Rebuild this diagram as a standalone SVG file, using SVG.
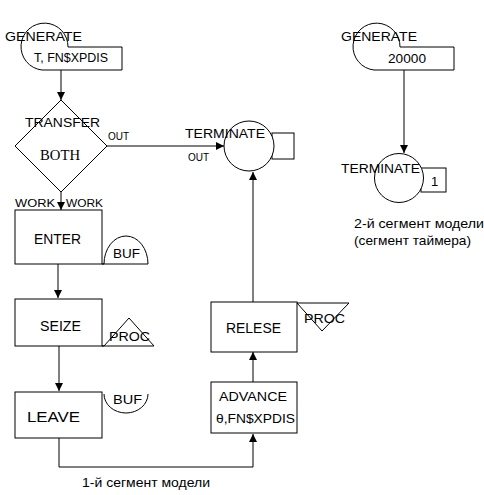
<svg xmlns="http://www.w3.org/2000/svg" width="484" height="495" viewBox="0 0 484 495">
<defs>
<style>
.s{fill:#fff;stroke:#000;stroke-width:1}
.n{fill:none;stroke:#000;stroke-width:1}
.t{font-family:"Liberation Sans",Arial,sans-serif;font-size:13px;fill:#000}
.c{text-anchor:middle}
.b{font-size:15px}
.sm{font-size:10px}
.ser{font-family:"Liberation Serif","Times New Roman",serif;font-size:15px}
</style>
<marker id="ah" viewBox="0 0 10 10" refX="10" refY="5" markerWidth="8" markerHeight="8" markerUnits="userSpaceOnUse" orient="auto">
<path d="M0,0 L10,5 L0,10 Z" fill="#000"/>
</marker>
</defs>
<rect width="484" height="495" fill="#fff"/>

<g id="connectors">
<line class="n" x1="61" y1="70" x2="61" y2="100" marker-end="url(#ah)"/>
<line class="n" x1="61" y1="192" x2="61" y2="210" marker-end="url(#ah)"/>
<line class="n" x1="107" y1="146" x2="224" y2="146" marker-end="url(#ah)"/>
<line class="n" x1="58" y1="264" x2="58" y2="298" marker-end="url(#ah)"/>
<line class="n" x1="59" y1="346" x2="59" y2="391" stroke-width="2" marker-end="url(#ah)"/>
<polyline class="n" points="59,438 59,467 253,467 253,434" marker-end="url(#ah)"/>
<line class="n" x1="253" y1="382" x2="253" y2="352" marker-end="url(#ah)"/>
<line class="n" x1="253" y1="302" x2="253" y2="172" marker-end="url(#ah)"/>
<line class="n" x1="404" y1="70" x2="404" y2="153" marker-end="url(#ah)"/>
</g>

<g id="generate1">
<path class="s" d="M42,70 A23.5,23.5 0 1 1 68,47 L122,47 L122,70 Z"/>
<text class="t" x="5" y="41" textLength="77" lengthAdjust="spacingAndGlyphs">GENERATE</text>
<text class="t" x="34" y="62" font-size="12" textLength="74" lengthAdjust="spacingAndGlyphs">T, FN$XPDIS</text>
</g>

<g id="transfer">
<polygon class="s" points="61,100 107,146 61,192 15,146"/>
<text class="t" x="25" y="127" textLength="75" lengthAdjust="spacingAndGlyphs">TRANSFER</text>
<text class="ser" x="40" y="160" textLength="40" lengthAdjust="spacingAndGlyphs">BOTH</text>
<text class="t sm" x="108" y="140">OUT</text>
<text class="t sm" x="15" y="207" font-size="11" textLength="40" lengthAdjust="spacingAndGlyphs">WORK</text>
<text class="t sm" x="66" y="207" font-size="11" textLength="37" lengthAdjust="spacingAndGlyphs">WORK</text>
</g>

<g id="terminate1">
<rect class="s" x="272" y="133" width="22" height="26"/>
<circle class="s" cx="249" cy="146" r="25"/>
<text class="t" x="185" y="138" textLength="80" lengthAdjust="spacingAndGlyphs">TERMINATE</text>
<text class="t sm" x="188" y="161">OUT</text>
</g>

<g id="enter">
<rect class="s" x="15" y="210" width="87" height="54"/>
<text class="t b" x="34" y="244" textLength="47" lengthAdjust="spacingAndGlyphs">ENTER</text>
<path class="s" d="M102,264 L104,264 A22,28 0 0 1 148,264 Z"/>
<text class="t" x="113" y="258" textLength="27" lengthAdjust="spacingAndGlyphs">BUF</text>
</g>

<g id="seize">
<rect class="s" x="15" y="299" width="87" height="47"/>
<text class="t b" x="40" y="331" textLength="41" lengthAdjust="spacingAndGlyphs">SEIZE</text>
<polygon class="n" points="102,346 154,346 129,318 104,346"/>
<text class="t" x="109" y="341" font-size="14" textLength="41" lengthAdjust="spacingAndGlyphs">PROC</text>
</g>

<g id="leave">
<rect class="s" x="15" y="392" width="87" height="46"/>
<text class="t b" x="27" y="422" textLength="53" lengthAdjust="spacingAndGlyphs">LEAVE</text>
<path class="n" d="M104,394 A22,19 0 0 0 148,394"/>
<text class="t" x="113" y="404" textLength="29" lengthAdjust="spacingAndGlyphs">BUF</text>
</g>

<g id="advance">
<rect class="s" x="211" y="382" width="86" height="51"/>
<text class="t" x="219" y="401" font-size="15" textLength="68" lengthAdjust="spacingAndGlyphs">ADVANCE</text>
<text class="t" x="216" y="423" font-size="15" textLength="79" lengthAdjust="spacingAndGlyphs">θ,FN$XPDIS</text>
</g>

<g id="relese">
<rect class="s" x="211" y="302" width="86" height="50"/>
<text class="t b" x="226" y="333" textLength="55" lengthAdjust="spacingAndGlyphs">RELESE</text>
<polygon class="n" points="297,303 349,303 322,331"/>
<text class="t" x="304" y="323" font-size="14" textLength="41" lengthAdjust="spacingAndGlyphs">PROC</text>
</g>

<g id="generate2">
<path class="s" d="M374,70 A23.5,23.5 0 1 1 400,47 L454,47 L454,70 Z"/>
<text class="t" x="341" y="41" textLength="76" lengthAdjust="spacingAndGlyphs">GENERATE</text>
<text class="t" x="388" y="63" textLength="38" lengthAdjust="spacingAndGlyphs">20000</text>
</g>

<g id="terminate2">
<rect class="s" x="421" y="168" width="25" height="24"/>
<circle class="s" cx="399" cy="178" r="24.5"/>
<text class="t" x="341" y="173" textLength="79" lengthAdjust="spacingAndGlyphs">TERMINATE</text>
<text class="t" x="431" y="186">1</text>
</g>

<g id="labels">
<text class="t" x="82" y="487" textLength="128" lengthAdjust="spacingAndGlyphs">1-й сегмент модели</text>
<text class="t" x="354" y="228" textLength="130" lengthAdjust="spacingAndGlyphs">2-й сегмент модели</text>
<text class="t" x="354" y="245" textLength="117" lengthAdjust="spacingAndGlyphs">(сегмент таймера)</text>
</g>
</svg>
